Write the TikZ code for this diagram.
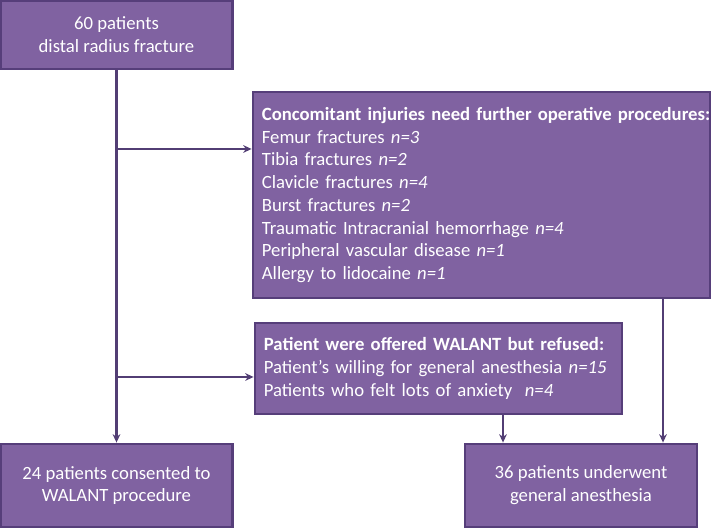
\documentclass[tikz,border=0pt]{standalone}
\usepackage{fontspec}
\setmainfont{Carlito}
\usetikzlibrary{arrows.meta,positioning,calc}
\definecolor{boxfill}{RGB}{128,98,161}
\definecolor{boxline}{RGB}{86,62,122}
\definecolor{flowline}{RGB}{82,62,116}
\newcommand{\nn}[1]{\textit{n=#1}}
\tikzset{
  flow/.style={-{Stealth[length=6pt,width=5.5pt]}, line width=1.8pt, draw=flowline},
  stagebox/.style={draw=boxline, fill=boxfill, line width=2pt, rectangle, minimum width=5.8cm, minimum height=1.9cm, text=white, align=center, font=\fontsize{13.3}{16.2}\selectfont},
  listbox/.style={stagebox, align=left, inner xsep=0.22cm}
}

\begin{document}
\begin{tikzpicture}
  \useasboundingbox (0,0) rectangle (17.775,13.2);
  % boxes
  \node[stagebox, minimum height=1.7cm] (all) at (2.9125,12.325) {60 patients\\distal radius fracture};
  \node[listbox, minimum width=11.425cm, minimum height=5.15cm, text width=10.98cm] (conc) at (12.0375,8.325) {\mbox{\textbf{Concomitant injuries need further operative procedures:}}\\
    Femur fractures \nn{3}\\
    Tibia fractures \nn{2}\\
    Clavicle fractures \nn{4}\\
    Burst fractures \nn{2}\\
    Traumatic Intracranial hemorrhage \nn{4}\\
    Peripheral vascular disease \nn{1}\\
    Allergy to lidocaine \nn{1}};
  \node[listbox, minimum width=9.175cm, minimum height=2.275cm, text width=8.73cm] (refuse) at (10.9625,3.9875) {\textbf{Patient were offered WALANT but refused:}\\
    Patient’s willing for general anesthesia \nn{15}\\
    Patients who felt lots of anxiety\ \ \nn{4}};
  \node[stagebox, minimum height=2.075cm] (walant) at (2.9125,1.0625) {24 patients consented to\\WALANT procedure};
  \node[stagebox, minimum height=2.075cm] (ga) at (14.525,1.0625) {36 patients underwent\\general anesthesia};

  % connectors
  \coordinate (split1) at (2.9125,9.475);
  \coordinate (split2) at (2.9125,3.775);
  \coordinate (drop1) at (12.575,0);
  \coordinate (drop2) at (16.575,0);
  \draw[flow] (all) -- (walant);
  \draw[flow] (split1) -- (split1 -| conc.west);
  \draw[flow] (split2) -- (split2 -| refuse.west);
  \draw[flow] (drop1 |- refuse.south) -- (drop1 |- ga.north);
  \draw[flow] (drop2 |- conc.south) -- (drop2 |- ga.north);
\end{tikzpicture}
\end{document}
